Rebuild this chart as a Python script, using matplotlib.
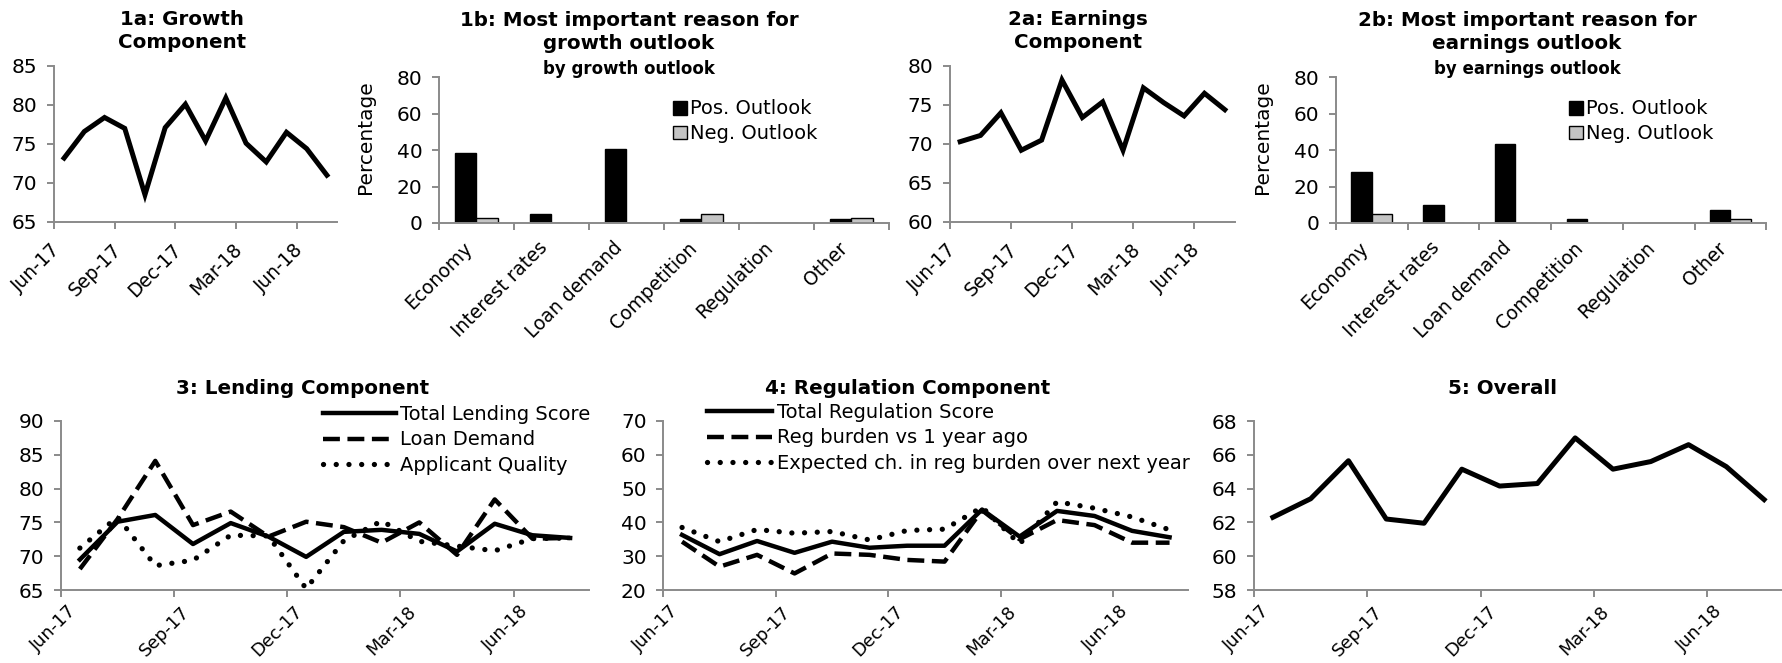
import matplotlib
matplotlib.use("Agg")
import matplotlib.pyplot as plt
import numpy as np
from matplotlib.patches import Patch

plt.rcParams['font.family'] = ['DejaVu Sans']

# ---------------- data ----------------
months = ['Jun-17', 'Jul-17', 'Aug-17', 'Sep-17', 'Oct-17', 'Nov-17', 'Dec-17',
          'Jan-18', 'Feb-18', 'Mar-18', 'Apr-18', 'May-18', 'Jun-18', 'Jul-18']
tick_idx = [0, 3, 6, 9, 12]

growth = [73.2, 76.6, 78.4, 77.0, 68.5, 77.1, 80.1, 75.4, 80.9, 75.1, 72.7, 76.5, 74.4, 71.0]
earnings = [70.3, 71.1, 74.0, 69.2, 70.5, 78.2, 73.4, 75.4, 69.2, 77.2, 75.3, 73.6, 76.5, 74.4]

reasons = ['Economy', 'Interest rates', 'Loan demand', 'Competition', 'Regulation', 'Other']
growth_pos = [38.3, 4.8, 40.7, 2.2, 0.0, 2.2]
growth_neg = [2.6, 0.0, 0.0, 5.1, 0.0, 2.6]
earn_pos = [27.9, 9.7, 43.2, 2.0, 0.0, 7.2]
earn_neg = [5.0, 0.0, 0.0, 0.0, 0.0, 2.2]

lending_total = [69.5, 75.1, 76.1, 71.8, 74.9, 72.9, 69.9, 73.6, 73.9, 73.3, 70.7, 74.8, 73.1, 72.7]
loan_demand = [68.1, 75.5, 84.1, 74.6, 76.6, 72.9, 75.1, 74.3, 72.0, 75.0, 70.2, 78.4, 72.6, 72.7]
applicant_quality = [71.2, 75.8, 68.6, 69.4, 73.1, 73.0, 65.2, 72.3, 75.2, 72.2, 71.5, 70.8, 72.6, 72.7]

reg_total = [36.3, 30.6, 34.5, 31.0, 34.3, 32.5, 33.1, 33.1, 43.8, 35.8, 43.4, 41.9, 37.5, 35.6]
reg_burden = [34.3, 26.9, 30.4, 24.9, 30.8, 30.4, 28.9, 28.4, 43.6, 35.0, 40.7, 39.2, 34.0, 34.0]
reg_expected = [38.5, 34.3, 37.9, 36.8, 37.3, 34.8, 37.6, 38.0, 44.5, 33.6, 46.1, 44.2, 41.6, 37.8]

overall = [62.3, 63.4, 65.65, 62.2, 61.95, 65.15, 64.15, 64.3, 67.0, 65.15, 65.6, 66.6, 65.3, 63.35]

# ---------------- layout ----------------
W, H = 1783, 663
fig = plt.figure(figsize=(W / 100, H / 100), dpi=100)
AX_GRAY = '#8a8a8a'
YTICK_FS = 14.5
XTICK_FS = 13.5
LEG_FS = 14
TITLE_FS = 14.3


def add_axes(x0, x1, y0, y1):
    ax = fig.add_axes([x0 / W, 1 - y1 / H, (x1 - x0) / W, (y1 - y0) / H])
    for s in ['top', 'right']:
        ax.spines[s].set_visible(False)
    for s in ['left', 'bottom']:
        ax.spines[s].set_color(AX_GRAY)
        ax.spines[s].set_linewidth(1.4)
    ax.tick_params(axis='y', colors=AX_GRAY, labelcolor='black', labelsize=YTICK_FS,
                   width=1.4, length=5, pad=7)
    ax.set_facecolor('none')
    return ax


def time_axis(ax, pad=13, fs=XTICK_FS):
    ax.set_xlim(0, len(months))
    ax.set_xticks([i + 0.5 for i in tick_idx])
    ax.set_xticklabels([months[i] for i in tick_idx], rotation=45, ha='right', va='top')
    ax.set_xticks(tick_idx, minor=True)
    ax.tick_params(axis='x', which='major', length=0, pad=pad, labelsize=fs)
    ax.tick_params(axis='x', which='minor', length=5, width=1.4, color=AX_GRAY)


def cat_axis(ax, labels, pad=11):
    n = len(labels)
    ax.set_xlim(0, n)
    ax.set_xticks(np.arange(n) + 0.5)
    ax.set_xticklabels(labels, rotation=45, ha='right', va='top')
    ax.set_xticks(np.arange(n + 1), minor=True)
    ax.tick_params(axis='x', which='major', length=0, pad=pad, labelsize=XTICK_FS)
    ax.tick_params(axis='x', which='minor', length=5, width=1.4, color=AX_GRAY)


xs = np.arange(len(months)) + 0.5

# 1a
ax = add_axes(54, 337, 66, 222)
ax.plot(xs, growth, color='black', lw=3.6, solid_joinstyle='miter')
ax.set_ylim(65, 85)
ax.set_yticks(np.arange(65, 86, 5))
time_axis(ax)
fig.text(182 / W, 1 - 31 / H, '1a: Growth\nComponent', ha='center', va='center',
         fontsize=TITLE_FS, fontweight='bold', linespacing=1.3)

# 2a
ax = add_axes(950, 1235, 66, 222)
ax.plot(xs, earnings, color='black', lw=3.6, solid_joinstyle='miter')
ax.set_ylim(60, 80)
ax.set_yticks(np.arange(60, 81, 5))
time_axis(ax)
fig.text(1078 / W, 1 - 31 / H, '2a: Earnings\nComponent', ha='center', va='center',
         fontsize=TITLE_FS, fontweight='bold', linespacing=1.3)


# bar charts
def bar_panel(x0, x1, pos, neg, title, sub, tx, legx):
    ax = add_axes(x0, x1, 77.3, 223)
    bw = 1 / 3.5
    c = np.arange(len(reasons)) + 0.5
    ax.bar(c - bw / 2, pos, width=bw, color='black', edgecolor='black', lw=1)
    ax.bar(c + bw / 2, neg, width=bw, color='#c4c4c4', edgecolor='black', lw=1)
    ax.set_ylim(0, 80)
    ax.set_yticks(np.arange(0, 81, 20))
    cat_axis(ax, reasons)
    ax.set_ylabel('Percentage', fontsize=LEG_FS + 0.5)
    ax.yaxis.set_label_coords(-64 / (x1 - x0), (223 - 137) / (223 - 77.3))
    handles = [Patch(facecolor='black', edgecolor='black', lw=1),
               Patch(facecolor='#c4c4c4', edgecolor='black', lw=1)]
    ax.legend(handles, ['Pos. Outlook', 'Neg. Outlook'], loc='upper left',
              bbox_to_anchor=(legx / W, 1 - 99.5 / H), bbox_transform=fig.transFigure,
              frameon=False, fontsize=LEG_FS, handlelength=0.7, handleheight=0.7,
              handletextpad=0.15, borderpad=0, borderaxespad=0, labelspacing=0.3)
    fig.text(tx / W, 1 - 32 / H, title, ha='center', va='center',
             fontsize=TITLE_FS, fontweight='bold', linespacing=1.3)
    fig.text(tx / W, 1 - 69 / H, sub, ha='center', va='center',
             fontsize=12, fontweight='bold')
    return ax


bar_panel(439, 888.7, growth_pos, growth_neg,
          '1b: Most important reason for\ngrowth outlook', 'by growth outlook', 629, 673)
bar_panel(1336, 1766.3, earn_pos, earn_neg,
          '2b: Most important reason for\nearnings outlook', 'by earnings outlook', 1527, 1569)

# 3: lending
dash = (0, (3.8, 1.7))
dot = (0, (0.01, 2.4))
BOT_PAD = 9
BOT_FS = 12.8
ax = add_axes(61, 589, 421, 590)
ax.plot(xs, lending_total, color='black', lw=3.2, label='Total Lending Score')
ax.plot(xs, loan_demand, color='black', lw=3.2, ls=dash, label='Loan Demand')
ax.plot(xs, applicant_quality, color='black', lw=3.8, ls=dot, dash_capstyle='round',
        label='Applicant Quality')
ax.set_ylim(65, 90)
ax.set_yticks(np.arange(65, 91, 5))
time_axis(ax, pad=BOT_PAD, fs=BOT_FS)
ax.legend(loc='upper left', bbox_to_anchor=(323 / W, 1 - 405 / H), bbox_transform=fig.transFigure,
          frameon=False, fontsize=LEG_FS, handlelength=3.75, handletextpad=0.2,
          borderpad=0, borderaxespad=0, labelspacing=0.33)
fig.text(303 / W, 1 - 388 / H, '3: Lending Component', ha='center', va='center',
         fontsize=TITLE_FS, fontweight='bold')

# 4: regulation
ax = add_axes(663.3, 1188.3, 421, 590)
ax.plot(xs, reg_total, color='black', lw=3.2, label='Total Regulation Score')
ax.plot(xs, reg_burden, color='black', lw=3.2, ls=dash, label='Reg burden vs 1 year ago')
ax.plot(xs, reg_expected, color='black', lw=3.8, ls=dot, dash_capstyle='round',
        label='Expected ch. in reg burden over next year')
ax.set_ylim(20, 70)
ax.set_yticks(np.arange(20, 71, 10))
time_axis(ax, pad=BOT_PAD, fs=BOT_FS)
ax.legend(loc='upper left', bbox_to_anchor=(707 / W, 1 - 403 / H), bbox_transform=fig.transFigure,
          frameon=False, fontsize=LEG_FS, handlelength=3.35, handletextpad=0.25,
          borderpad=0, borderaxespad=0, labelspacing=0.33)
fig.text(908 / W, 1 - 388 / H, '4: Regulation Component', ha='center', va='center',
         fontsize=TITLE_FS, fontweight='bold')

# 5: overall
ax = add_axes(1254, 1783, 421, 590)
ax.plot(xs, overall, color='black', lw=3.6)
ax.set_ylim(58, 68)
ax.set_yticks(np.arange(58, 69, 2))
time_axis(ax, pad=BOT_PAD, fs=BOT_FS)
fig.text(1503 / W, 1 - 388 / H, '5: Overall', ha='center', va='center',
         fontsize=TITLE_FS, fontweight='bold')

fig.savefig('out.png', dpi=100, facecolor='white')
